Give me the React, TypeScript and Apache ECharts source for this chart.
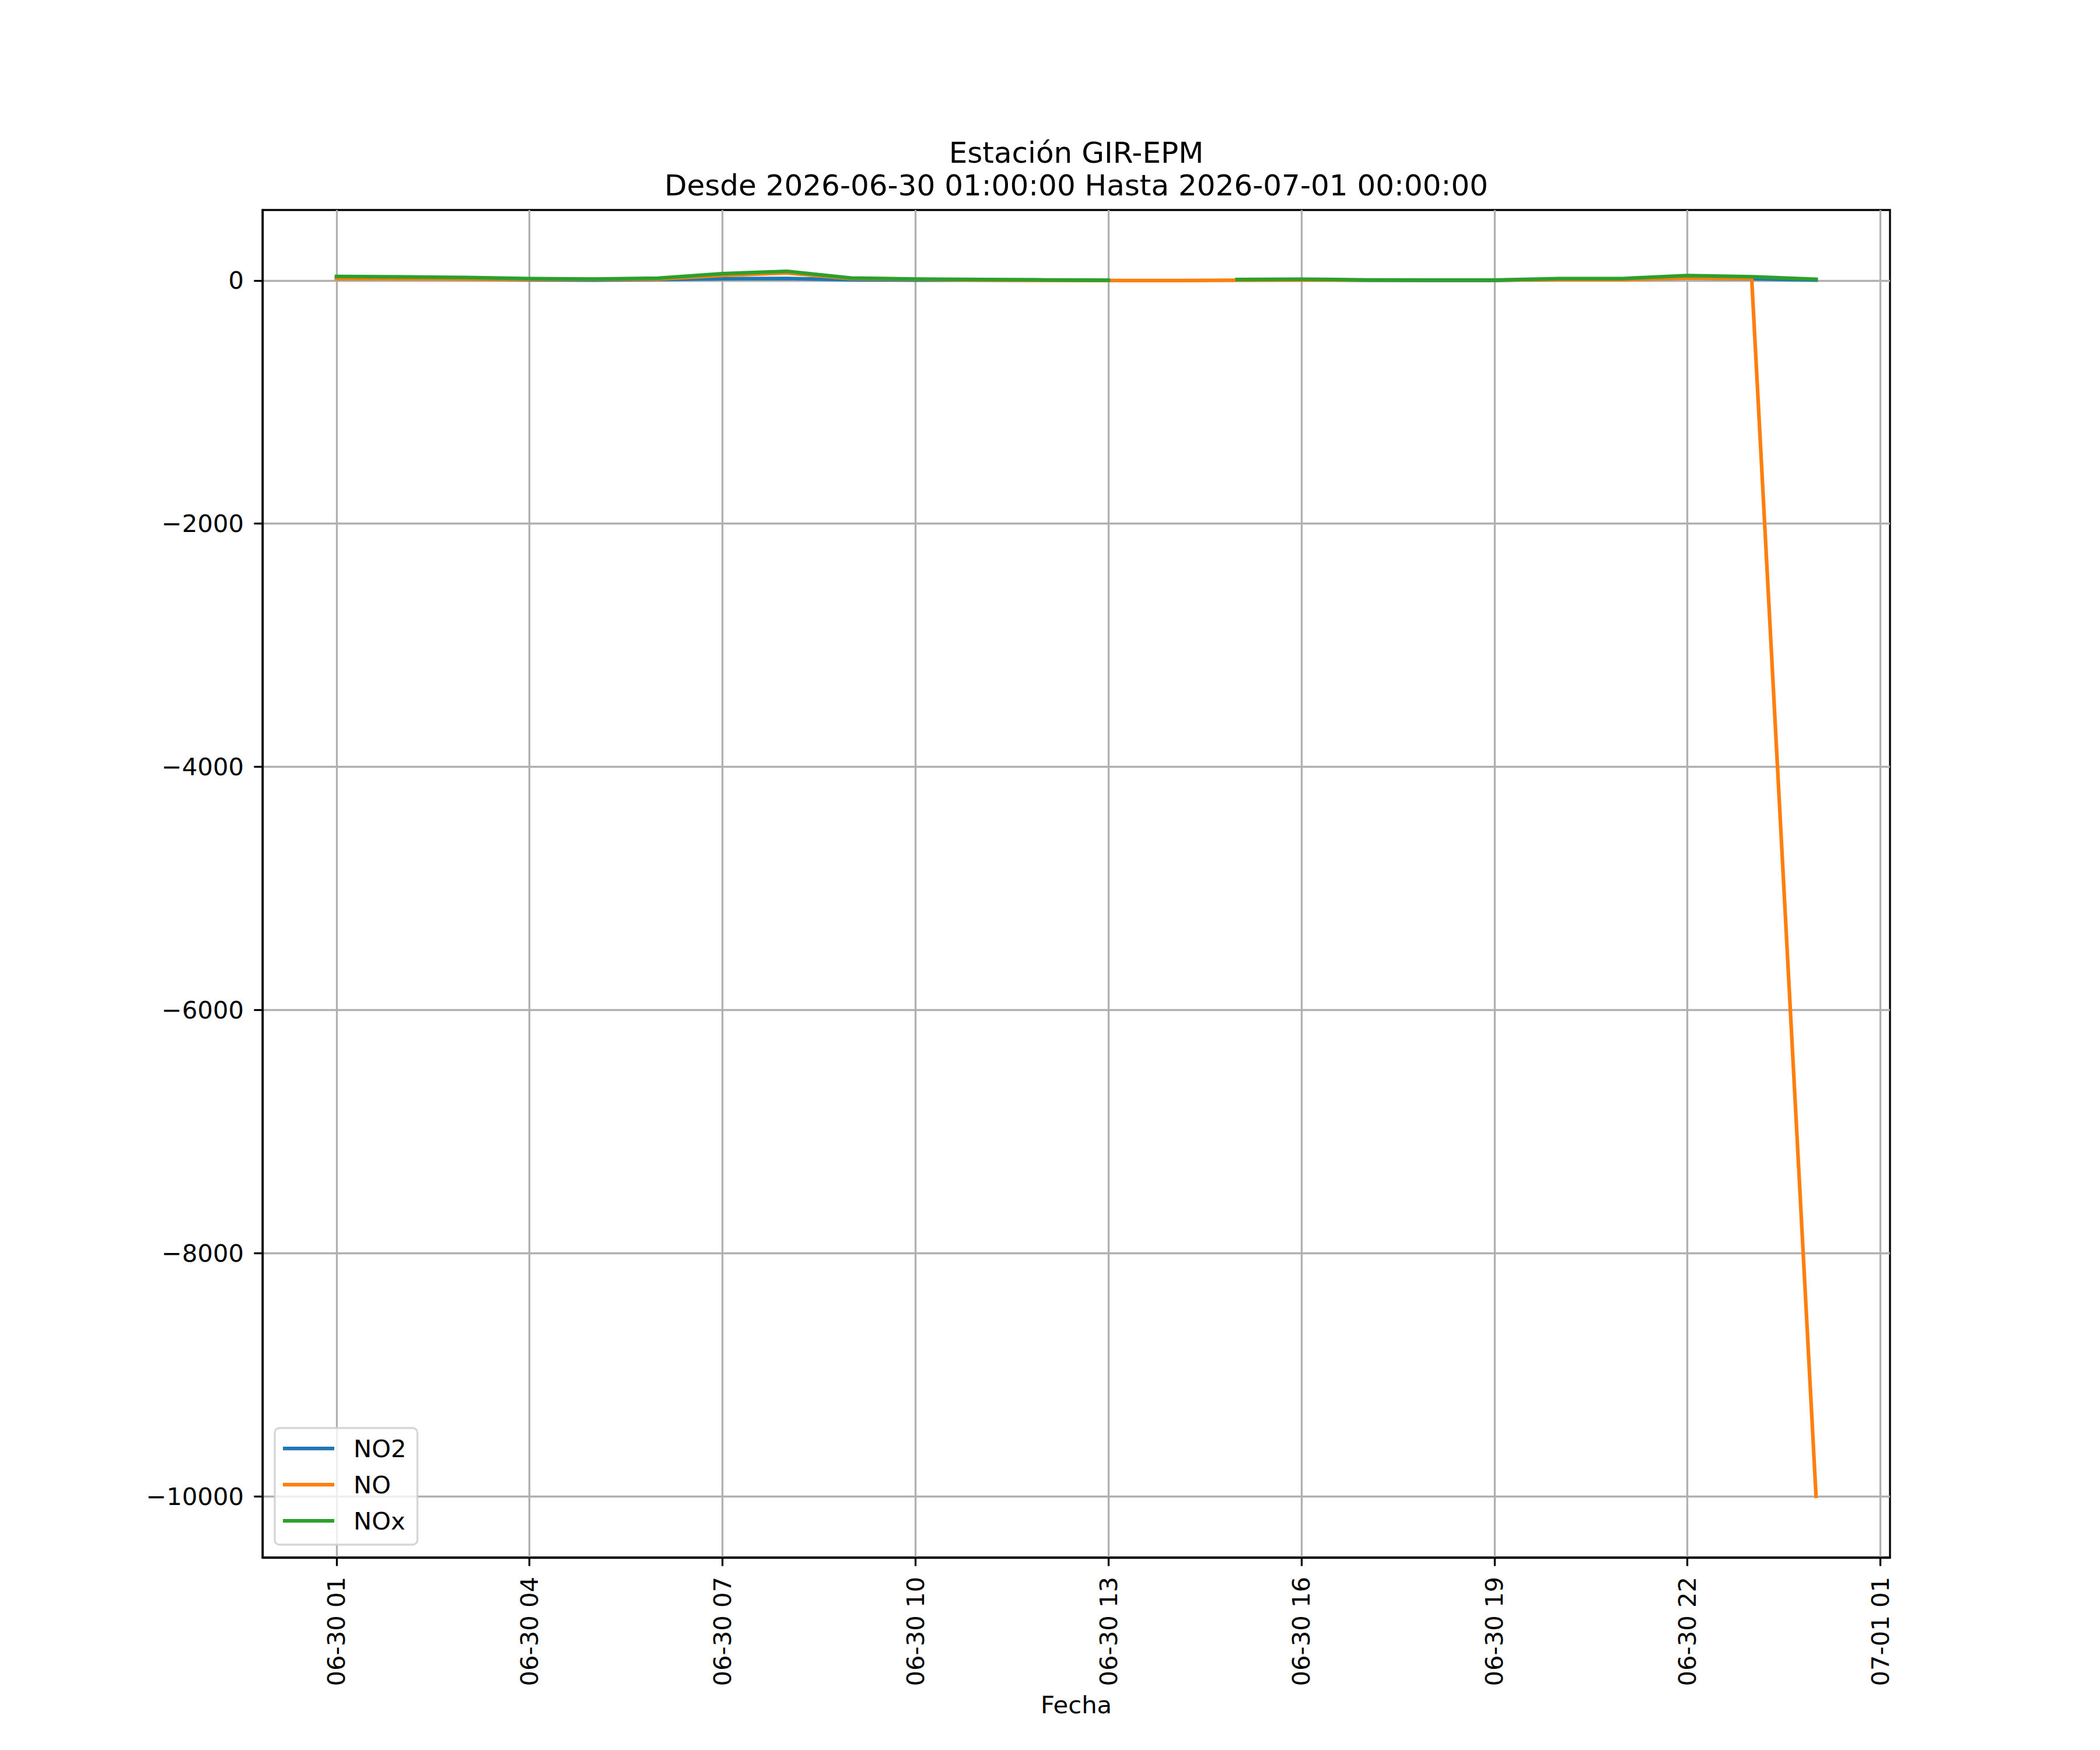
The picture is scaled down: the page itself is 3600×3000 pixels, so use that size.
import React, { useEffect, useRef } from "react";
import * as echarts from "echarts";

// Hours since 2026-06-30 00:00 (1 = 06-30 01:00 ... 24 = 07-01 00:00)
const HOURS = [1, 2, 3, 4, 5, 6, 7, 8, 9, 10, 11, 12, 13, 14, 15, 16, 17, 18, 19, 20, 21, 22, 23, 24];
const NO2_VALUES: (number | null)[] = [17, 16, 13, 6, 3, 8, 14, 17, 6, 3, 4, 3, 1, null, 6, 8, 2, 1, 1, 9, 9, 20, 14, 4];
const NO_VALUES: (number | null)[] = [15, 14, 12, 9, 9, 12, 42, 62, 15, 10, 3, 1, 0, 0, 2, 3, 4, 4, 4, 7, 7, 20, 16, -10000];
const NOX_VALUES: (number | null)[] = [33, 30, 25, 15, 12, 19, 56, 76, 20, 12, 8, 5, 2, null, 8, 11, 5, 3, 3, 16, 16, 41, 31, 10];

const SERIES_NAMES = ["NO2", "NO", "NOx"];
const SERIES_COLORS = ["#1f77b4", "#ff7f0e", "#2ca02c"];

const X_TICKS = [1, 4, 7, 10, 13, 16, 19, 22, 25];
const X_TICK_LABELS = [
  "06-30 01",
  "06-30 04",
  "06-30 07",
  "06-30 10",
  "06-30 13",
  "06-30 16",
  "06-30 19",
  "06-30 22",
  "07-01 01",
];
const Y_TICKS = [-10000, -8000, -6000, -4000, -2000, 0];
const Y_TICK_LABELS = ["\u221210000", "\u22128000", "\u22126000", "\u22124000", "\u22122000", "0"];

const TITLE_LINE_1 = "Estación GIR-EPM";
const TITLE_LINE_2 = "Desde 2026-06-30 01:00:00 Hasta 2026-07-01 00:00:00";
const X_LABEL = "Fecha";

const FONT = "DejaVu Sans";
const FS = 41.7;

export default function App() {
  const ref = useRef<HTMLDivElement>(null);

  useEffect(() => {
    if (!ref.current) return;
    const chart = echarts.init(ref.current, null, { renderer: "svg" });

    const allSeries = [NO2_VALUES, NO_VALUES, NOX_VALUES];
    const allVals = allSeries.flat().filter((v) => v !== null) as number[];
    const yMinD = Math.min(...allVals);
    const yMaxD = Math.max(...allVals);
    const yPad = (yMaxD - yMinD) * 0.05;
    const xMinD = HOURS[0];
    const xMaxD = HOURS[HOURS.length - 1];
    const xPad = (xMaxD - xMinD) * 0.05;

    const series = allSeries.map((vals, si) => ({
      name: SERIES_NAMES[si],
      type: "line",
      data: HOURS.map((h, i) => [h, vals[i] === null ? "-" : vals[i]]),
      showSymbol: false,
      symbol: "none",
      connectNulls: false,
      color: SERIES_COLORS[si],
      lineStyle: { width: 6.25, color: SERIES_COLORS[si], cap: "square", join: "round" },
      z: 2 + si * 0.01,
    }));

    chart.setOption({
      animation: false,
      backgroundColor: "#ffffff",
      grid: {
        left: 450,
        top: 360,
        width: 2790,
        height: 2310,
        show: true,
        borderColor: "#000000",
        borderWidth: 3.3,
        backgroundColor: "#ffffff",
        containLabel: false,
      },
      graphic: [
        {
          type: "text",
          x: 1845,
          y: 262,
          style: {
            text: TITLE_LINE_1,
            font: `50px "${FONT}"`,
            fill: "#000",
            textAlign: "center",
            textVerticalAlign: "middle",
          },
        },
        {
          type: "text",
          x: 1845,
          y: 318,
          style: {
            text: TITLE_LINE_2,
            font: `50px "${FONT}"`,
            fill: "#000",
            textAlign: "center",
            textVerticalAlign: "middle",
          },
        },
      ],
      legend: {
        data: SERIES_NAMES.map((n) => ({ name: n, icon: "rect" })),
        orient: "vertical",
        left: 471,
        top: 2448,
        itemWidth: 88,
        itemHeight: 6.25,
        itemGap: 20,
        padding: [14, 19, 20, 14],
        backgroundColor: "rgba(255,255,255,0.8)",
        borderColor: "rgba(204,204,204,0.8)",
        borderWidth: 3.3,
        borderRadius: 8,
        selectedMode: false,
        textStyle: {
          fontFamily: FONT,
          fontSize: FS,
          color: "#000",
          lineHeight: 42,
          padding: [0, 0, 0, 28],
        },
        z: 10,
      },
      xAxis: {
        type: "value",
        min: xMinD - xPad,
        max: xMaxD + xPad,
        name: X_LABEL,
        nameLocation: "middle",
        nameGap: 231,
        nameTextStyle: { fontFamily: FONT, fontSize: FS, color: "#000" },
        axisLine: { show: true, onZero: false, lineStyle: { color: "#000", width: 3.3 } },
        axisTick: {
          show: true,
          inside: false,
          length: 14.6,
          lineStyle: { color: "#000", width: 3.3 },
          customValues: X_TICKS,
        },
        axisLabel: {
          show: true,
          rotate: 90,
          margin: 33,
          fontFamily: FONT,
          fontSize: FS,
          color: "#000",
          customValues: X_TICKS,
          formatter: (v: number) => {
            const idx = X_TICKS.indexOf(Math.round(v));
            return idx >= 0 ? X_TICK_LABELS[idx] : "";
          },
        },
        splitLine: { show: true, lineStyle: { color: "#b0b0b0", width: 3.3 } },
      },
      yAxis: {
        type: "value",
        min: yMinD - yPad,
        max: yMaxD + yPad,
        axisLine: { show: true, onZero: false, lineStyle: { color: "#000", width: 3.3 } },
        axisTick: {
          show: true,
          inside: false,
          length: 14.6,
          lineStyle: { color: "#000", width: 3.3 },
          customValues: Y_TICKS,
        },
        axisLabel: {
          show: true,
          margin: 32,
          fontFamily: FONT,
          fontSize: FS,
          color: "#000",
          customValues: Y_TICKS,
          formatter: (v: number) => {
            const idx = Y_TICKS.indexOf(Math.round(v));
            return idx >= 0 ? Y_TICK_LABELS[idx] : "";
          },
        },
        splitLine: { show: true, lineStyle: { color: "#b0b0b0", width: 3.3 } },
      },
      series,
    });

    return () => {
      chart.dispose();
    };
  }, []);

  return (
    <div
      ref={ref}
      style={{ position: "absolute", left: 0, top: 0, width: 3600, height: 3000, background: "#fff" }}
    />
  );
}
